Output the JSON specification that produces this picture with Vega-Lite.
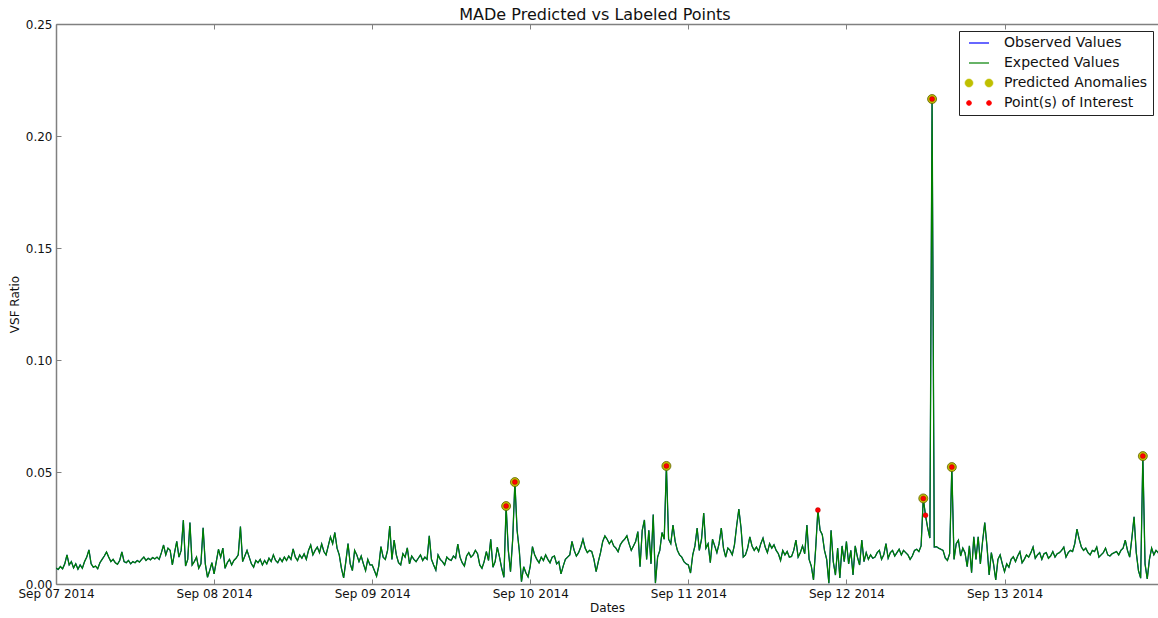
{
"$schema": "https://vega.github.io/schema/vega-lite/v6.json",
"width": 1102, "height": 560,
"autosize": {"type": "none"},
"padding": {"left": 56, "top": 24, "right": 0, "bottom": 34},
"config": {"font": "DejaVu Sans", "view": {"stroke": null}, "axis": {"grid": false}},
"title": {"text": "MADe Predicted vs Labeled Points", "font": "DejaVu Sans", "fontSize": 16, "fontWeight": "normal", "color": "#111", "anchor": "middle", "dx": -12, "offset": -5},
"data": {"values": [
{"t":"2014-09-07T00:00","v":0.0071},{"t":"2014-09-07T00:20","v":0.0065},{"t":"2014-09-07T00:40","v":0.0078},
{"t":"2014-09-07T01:00","v":0.0068},{"t":"2014-09-07T01:20","v":0.0090},{"t":"2014-09-07T01:40","v":0.0130},
{"t":"2014-09-07T02:00","v":0.0085},{"t":"2014-09-07T02:20","v":0.0100},{"t":"2014-09-07T02:40","v":0.0072},
{"t":"2014-09-07T03:00","v":0.0090},{"t":"2014-09-07T03:20","v":0.0066},{"t":"2014-09-07T03:40","v":0.0085},
{"t":"2014-09-07T04:00","v":0.0070},{"t":"2014-09-07T04:20","v":0.0100},{"t":"2014-09-07T04:40","v":0.0120},
{"t":"2014-09-07T05:00","v":0.0152},{"t":"2014-09-07T05:20","v":0.0090},{"t":"2014-09-07T05:40","v":0.0075},
{"t":"2014-09-07T06:00","v":0.0080},{"t":"2014-09-07T06:20","v":0.0068},{"t":"2014-09-07T06:40","v":0.0095},
{"t":"2014-09-07T07:00","v":0.0110},{"t":"2014-09-07T07:20","v":0.0125},{"t":"2014-09-07T07:40","v":0.0143},
{"t":"2014-09-07T08:00","v":0.0120},{"t":"2014-09-07T08:20","v":0.0100},{"t":"2014-09-07T08:40","v":0.0110},
{"t":"2014-09-07T09:00","v":0.0095},{"t":"2014-09-07T09:20","v":0.0088},{"t":"2014-09-07T09:40","v":0.0105},
{"t":"2014-09-07T10:00","v":0.0143},{"t":"2014-09-07T10:20","v":0.0100},{"t":"2014-09-07T10:40","v":0.0095},
{"t":"2014-09-07T11:00","v":0.0105},{"t":"2014-09-07T11:20","v":0.0090},{"t":"2014-09-07T11:40","v":0.0100},
{"t":"2014-09-07T12:00","v":0.0095},{"t":"2014-09-07T12:20","v":0.0105},{"t":"2014-09-07T12:40","v":0.0098},
{"t":"2014-09-07T13:00","v":0.0110},{"t":"2014-09-07T13:20","v":0.0120},{"t":"2014-09-07T13:40","v":0.0105},
{"t":"2014-09-07T14:00","v":0.0115},{"t":"2014-09-07T14:20","v":0.0108},{"t":"2014-09-07T14:40","v":0.0118},
{"t":"2014-09-07T15:00","v":0.0112},{"t":"2014-09-07T15:20","v":0.0120},{"t":"2014-09-07T15:40","v":0.0110},
{"t":"2014-09-07T16:00","v":0.0140},{"t":"2014-09-07T16:20","v":0.0174},{"t":"2014-09-07T16:40","v":0.0130},
{"t":"2014-09-07T17:00","v":0.0160},{"t":"2014-09-07T17:20","v":0.0150},{"t":"2014-09-07T17:40","v":0.0085},
{"t":"2014-09-07T18:00","v":0.0140},{"t":"2014-09-07T18:20","v":0.0190},{"t":"2014-09-07T18:40","v":0.0120},
{"t":"2014-09-07T19:00","v":0.0150},{"t":"2014-09-07T19:20","v":0.0286},{"t":"2014-09-07T19:40","v":0.0080},
{"t":"2014-09-07T20:00","v":0.0110},{"t":"2014-09-07T20:20","v":0.0274},{"t":"2014-09-07T20:40","v":0.0085},
{"t":"2014-09-07T21:00","v":0.0100},{"t":"2014-09-07T21:20","v":0.0120},{"t":"2014-09-07T21:40","v":0.0070},
{"t":"2014-09-07T22:00","v":0.0090},{"t":"2014-09-07T22:20","v":0.0251},{"t":"2014-09-07T22:40","v":0.0090},
{"t":"2014-09-07T23:00","v":0.0030},{"t":"2014-09-07T23:20","v":0.0060},{"t":"2014-09-07T23:40","v":0.0095},
{"t":"2014-09-08T00:00","v":0.0045},{"t":"2014-09-08T00:20","v":0.0100},{"t":"2014-09-08T00:40","v":0.0155},
{"t":"2014-09-08T01:00","v":0.0120},{"t":"2014-09-08T01:20","v":0.0160},{"t":"2014-09-08T01:40","v":0.0070},
{"t":"2014-09-08T02:00","v":0.0095},{"t":"2014-09-08T02:20","v":0.0110},{"t":"2014-09-08T02:40","v":0.0085},
{"t":"2014-09-08T03:00","v":0.0105},{"t":"2014-09-08T03:20","v":0.0115},{"t":"2014-09-08T03:40","v":0.0130},
{"t":"2014-09-08T04:00","v":0.0256},{"t":"2014-09-08T04:20","v":0.0100},{"t":"2014-09-08T04:40","v":0.0125},
{"t":"2014-09-08T05:00","v":0.0150},{"t":"2014-09-08T05:20","v":0.0120},{"t":"2014-09-08T05:40","v":0.0090},
{"t":"2014-09-08T06:00","v":0.0075},{"t":"2014-09-08T06:20","v":0.0105},{"t":"2014-09-08T06:40","v":0.0095},
{"t":"2014-09-08T07:00","v":0.0110},{"t":"2014-09-08T07:20","v":0.0085},{"t":"2014-09-08T07:40","v":0.0105},
{"t":"2014-09-08T08:00","v":0.0090},{"t":"2014-09-08T08:20","v":0.0115},{"t":"2014-09-08T08:40","v":0.0100},
{"t":"2014-09-08T09:00","v":0.0130},{"t":"2014-09-08T09:20","v":0.0105},{"t":"2014-09-08T09:40","v":0.0095},
{"t":"2014-09-08T10:00","v":0.0115},{"t":"2014-09-08T10:20","v":0.0100},{"t":"2014-09-08T10:40","v":0.0120},
{"t":"2014-09-08T11:00","v":0.0105},{"t":"2014-09-08T11:20","v":0.0125},{"t":"2014-09-08T11:40","v":0.0110},
{"t":"2014-09-08T12:00","v":0.0157},{"t":"2014-09-08T12:20","v":0.0120},{"t":"2014-09-08T12:40","v":0.0105},
{"t":"2014-09-08T13:00","v":0.0130},{"t":"2014-09-08T13:20","v":0.0115},{"t":"2014-09-08T13:40","v":0.0135},
{"t":"2014-09-08T14:00","v":0.0110},{"t":"2014-09-08T14:20","v":0.0150},{"t":"2014-09-08T14:40","v":0.0174},
{"t":"2014-09-08T15:00","v":0.0130},{"t":"2014-09-08T15:20","v":0.0150},{"t":"2014-09-08T15:40","v":0.0165},
{"t":"2014-09-08T16:00","v":0.0140},{"t":"2014-09-08T16:20","v":0.0179},{"t":"2014-09-08T16:40","v":0.0145},
{"t":"2014-09-08T17:00","v":0.0130},{"t":"2014-09-08T17:20","v":0.0170},{"t":"2014-09-08T17:40","v":0.0210},
{"t":"2014-09-08T18:00","v":0.0180},{"t":"2014-09-08T18:20","v":0.0230},{"t":"2014-09-08T18:40","v":0.0160},
{"t":"2014-09-08T19:00","v":0.0130},{"t":"2014-09-08T19:20","v":0.0070},{"t":"2014-09-08T19:40","v":0.0027},
{"t":"2014-09-08T20:00","v":0.0100},{"t":"2014-09-08T20:20","v":0.0180},{"t":"2014-09-08T20:40","v":0.0090},
{"t":"2014-09-08T21:00","v":0.0060},{"t":"2014-09-08T21:20","v":0.0150},{"t":"2014-09-08T21:40","v":0.0130},
{"t":"2014-09-08T22:00","v":0.0100},{"t":"2014-09-08T22:20","v":0.0125},{"t":"2014-09-08T22:40","v":0.0090},
{"t":"2014-09-08T23:00","v":0.0060},{"t":"2014-09-08T23:20","v":0.0110},{"t":"2014-09-08T23:40","v":0.0085},
{"t":"2014-09-09T00:00","v":0.0085},{"t":"2014-09-09T00:20","v":0.0060},{"t":"2014-09-09T00:40","v":0.0035},
{"t":"2014-09-09T01:00","v":0.0080},{"t":"2014-09-09T01:20","v":0.0167},{"t":"2014-09-09T01:40","v":0.0120},
{"t":"2014-09-09T02:00","v":0.0110},{"t":"2014-09-09T02:20","v":0.0150},{"t":"2014-09-09T02:40","v":0.0259},
{"t":"2014-09-09T03:00","v":0.0110},{"t":"2014-09-09T03:20","v":0.0196},{"t":"2014-09-09T03:40","v":0.0130},
{"t":"2014-09-09T04:00","v":0.0095},{"t":"2014-09-09T04:20","v":0.0085},{"t":"2014-09-09T04:40","v":0.0135},
{"t":"2014-09-09T05:00","v":0.0120},{"t":"2014-09-09T05:20","v":0.0161},{"t":"2014-09-09T05:40","v":0.0090},
{"t":"2014-09-09T06:00","v":0.0125},{"t":"2014-09-09T06:20","v":0.0110},{"t":"2014-09-09T06:40","v":0.0100},
{"t":"2014-09-09T07:00","v":0.0115},{"t":"2014-09-09T07:20","v":0.0130},{"t":"2014-09-09T07:40","v":0.0105},
{"t":"2014-09-09T08:00","v":0.0120},{"t":"2014-09-09T08:20","v":0.0110},{"t":"2014-09-09T08:40","v":0.0215},
{"t":"2014-09-09T09:00","v":0.0110},{"t":"2014-09-09T09:20","v":0.0085},{"t":"2014-09-09T09:40","v":0.0062},
{"t":"2014-09-09T10:00","v":0.0130},{"t":"2014-09-09T10:20","v":0.0110},{"t":"2014-09-09T10:40","v":0.0100},
{"t":"2014-09-09T11:00","v":0.0085},{"t":"2014-09-09T11:20","v":0.0120},{"t":"2014-09-09T11:40","v":0.0110},
{"t":"2014-09-09T12:00","v":0.0105},{"t":"2014-09-09T12:20","v":0.0125},{"t":"2014-09-09T12:40","v":0.0115},
{"t":"2014-09-09T13:00","v":0.0178},{"t":"2014-09-09T13:20","v":0.0120},{"t":"2014-09-09T13:40","v":0.0095},
{"t":"2014-09-09T14:00","v":0.0080},{"t":"2014-09-09T14:20","v":0.0125},{"t":"2014-09-09T14:40","v":0.0140},
{"t":"2014-09-09T15:00","v":0.0120},{"t":"2014-09-09T15:20","v":0.0130},{"t":"2014-09-09T15:40","v":0.0150},
{"t":"2014-09-09T16:00","v":0.0135},{"t":"2014-09-09T16:20","v":0.0085},{"t":"2014-09-09T16:40","v":0.0070},
{"t":"2014-09-09T17:00","v":0.0100},{"t":"2014-09-09T17:20","v":0.0145},{"t":"2014-09-09T17:40","v":0.0105},
{"t":"2014-09-09T18:00","v":0.0200},{"t":"2014-09-09T18:20","v":0.0075},{"t":"2014-09-09T18:40","v":0.0100},
{"t":"2014-09-09T19:00","v":0.0165},{"t":"2014-09-09T19:20","v":0.0120},{"t":"2014-09-09T19:40","v":0.0070},
{"t":"2014-09-09T20:00","v":0.0030},{"t":"2014-09-09T20:20","v":0.0348,"a":1,"p":1},{"t":"2014-09-09T20:40","v":0.0150},
{"t":"2014-09-09T21:00","v":0.0055},{"t":"2014-09-09T21:20","v":0.0200},{"t":"2014-09-09T21:40","v":0.0455,"a":1,"p":1},
{"t":"2014-09-09T22:00","v":0.0240},{"t":"2014-09-09T22:20","v":0.0150},{"t":"2014-09-09T22:40","v":0.0010},
{"t":"2014-09-09T23:00","v":0.0077},{"t":"2014-09-09T23:20","v":0.0050},{"t":"2014-09-09T23:40","v":0.0032},
{"t":"2014-09-10T00:00","v":0.0080},{"t":"2014-09-10T00:20","v":0.0167},{"t":"2014-09-10T00:40","v":0.0130},
{"t":"2014-09-10T01:00","v":0.0110},{"t":"2014-09-10T01:20","v":0.0095},{"t":"2014-09-10T01:40","v":0.0120},
{"t":"2014-09-10T02:00","v":0.0105},{"t":"2014-09-10T02:20","v":0.0130},{"t":"2014-09-10T02:40","v":0.0110},
{"t":"2014-09-10T03:00","v":0.0095},{"t":"2014-09-10T03:20","v":0.0120},{"t":"2014-09-10T03:40","v":0.0125},
{"t":"2014-09-10T04:00","v":0.0090},{"t":"2014-09-10T04:20","v":0.0100},{"t":"2014-09-10T04:40","v":0.0045},
{"t":"2014-09-10T05:00","v":0.0080},{"t":"2014-09-10T05:20","v":0.0110},{"t":"2014-09-10T05:40","v":0.0120},
{"t":"2014-09-10T06:00","v":0.0130},{"t":"2014-09-10T06:20","v":0.0190},{"t":"2014-09-10T06:40","v":0.0150},
{"t":"2014-09-10T07:00","v":0.0125},{"t":"2014-09-10T07:20","v":0.0140},{"t":"2014-09-10T07:40","v":0.0165},
{"t":"2014-09-10T08:00","v":0.0200},{"t":"2014-09-10T08:20","v":0.0160},{"t":"2014-09-10T08:40","v":0.0140},
{"t":"2014-09-10T09:00","v":0.0150},{"t":"2014-09-10T09:20","v":0.0145},{"t":"2014-09-10T09:40","v":0.0110},
{"t":"2014-09-10T10:00","v":0.0055},{"t":"2014-09-10T10:20","v":0.0100},{"t":"2014-09-10T10:40","v":0.0140},
{"t":"2014-09-10T11:00","v":0.0190},{"t":"2014-09-10T11:20","v":0.0215},{"t":"2014-09-10T11:40","v":0.0200},
{"t":"2014-09-10T12:00","v":0.0180},{"t":"2014-09-10T12:20","v":0.0195},{"t":"2014-09-10T12:40","v":0.0170},
{"t":"2014-09-10T13:00","v":0.0160},{"t":"2014-09-10T13:20","v":0.0144},{"t":"2014-09-10T13:40","v":0.0175},
{"t":"2014-09-10T14:00","v":0.0190},{"t":"2014-09-10T14:20","v":0.0200},{"t":"2014-09-10T14:40","v":0.0215},
{"t":"2014-09-10T15:00","v":0.0180},{"t":"2014-09-10T15:20","v":0.0150},{"t":"2014-09-10T15:40","v":0.0170},
{"t":"2014-09-10T16:00","v":0.0190},{"t":"2014-09-10T16:20","v":0.0234},{"t":"2014-09-10T16:40","v":0.0077},
{"t":"2014-09-10T17:00","v":0.0240},{"t":"2014-09-10T17:20","v":0.0286},{"t":"2014-09-10T17:40","v":0.0110},
{"t":"2014-09-10T18:00","v":0.0240},{"t":"2014-09-10T18:20","v":0.0090},{"t":"2014-09-10T18:40","v":0.0310},
{"t":"2014-09-10T19:00","v":0.0004},{"t":"2014-09-10T19:20","v":0.0120},{"t":"2014-09-10T19:40","v":0.0150},
{"t":"2014-09-10T20:00","v":0.0230},{"t":"2014-09-10T20:20","v":0.0200},{"t":"2014-09-10T20:40","v":0.0527,"a":1,"p":1},
{"t":"2014-09-10T21:00","v":0.0200},{"t":"2014-09-10T21:20","v":0.0180},{"t":"2014-09-10T21:40","v":0.0263},
{"t":"2014-09-10T22:00","v":0.0190},{"t":"2014-09-10T22:20","v":0.0150},{"t":"2014-09-10T22:40","v":0.0130},
{"t":"2014-09-10T23:00","v":0.0120},{"t":"2014-09-10T23:20","v":0.0100},{"t":"2014-09-10T23:40","v":0.0090},
{"t":"2014-09-11T00:00","v":0.0085},{"t":"2014-09-11T00:20","v":0.0049},{"t":"2014-09-11T00:40","v":0.0130},
{"t":"2014-09-11T01:00","v":0.0170},{"t":"2014-09-11T01:20","v":0.0250},{"t":"2014-09-11T01:40","v":0.0150},
{"t":"2014-09-11T02:00","v":0.0200},{"t":"2014-09-11T02:20","v":0.0317},{"t":"2014-09-11T02:40","v":0.0160},
{"t":"2014-09-11T03:00","v":0.0180},{"t":"2014-09-11T03:20","v":0.0095},{"t":"2014-09-11T03:40","v":0.0200},
{"t":"2014-09-11T04:00","v":0.0170},{"t":"2014-09-11T04:20","v":0.0140},{"t":"2014-09-11T04:40","v":0.0180},
{"t":"2014-09-11T05:00","v":0.0250},{"t":"2014-09-11T05:20","v":0.0160},{"t":"2014-09-11T05:40","v":0.0120},
{"t":"2014-09-11T06:00","v":0.0160},{"t":"2014-09-11T06:20","v":0.0150},{"t":"2014-09-11T06:40","v":0.0130},
{"t":"2014-09-11T07:00","v":0.0175},{"t":"2014-09-11T07:20","v":0.0260},{"t":"2014-09-11T07:40","v":0.0335},
{"t":"2014-09-11T08:00","v":0.0250},{"t":"2014-09-11T08:20","v":0.0120},{"t":"2014-09-11T08:40","v":0.0130},
{"t":"2014-09-11T09:00","v":0.0160},{"t":"2014-09-11T09:20","v":0.0210},{"t":"2014-09-11T09:40","v":0.0170},
{"t":"2014-09-11T10:00","v":0.0150},{"t":"2014-09-11T10:20","v":0.0165},{"t":"2014-09-11T10:40","v":0.0145},
{"t":"2014-09-11T11:00","v":0.0180},{"t":"2014-09-11T11:20","v":0.0205},{"t":"2014-09-11T11:40","v":0.0165},
{"t":"2014-09-11T12:00","v":0.0140},{"t":"2014-09-11T12:20","v":0.0180},{"t":"2014-09-11T12:40","v":0.0160},
{"t":"2014-09-11T13:00","v":0.0175},{"t":"2014-09-11T13:20","v":0.0150},{"t":"2014-09-11T13:40","v":0.0135},
{"t":"2014-09-11T14:00","v":0.0105},{"t":"2014-09-11T14:20","v":0.0150},{"t":"2014-09-11T14:40","v":0.0130},
{"t":"2014-09-11T15:00","v":0.0145},{"t":"2014-09-11T15:20","v":0.0120},{"t":"2014-09-11T15:40","v":0.0123},
{"t":"2014-09-11T16:00","v":0.0150},{"t":"2014-09-11T16:20","v":0.0196},{"t":"2014-09-11T16:40","v":0.0120},
{"t":"2014-09-11T17:00","v":0.0140},{"t":"2014-09-11T17:20","v":0.0170},{"t":"2014-09-11T17:40","v":0.0135},
{"t":"2014-09-11T18:00","v":0.0263},{"t":"2014-09-11T18:20","v":0.0110},{"t":"2014-09-11T18:40","v":0.0080},
{"t":"2014-09-11T19:00","v":0.0018},{"t":"2014-09-11T19:20","v":0.0160},{"t":"2014-09-11T19:40","v":0.0330,"p":1},
{"t":"2014-09-11T20:00","v":0.0240},{"t":"2014-09-11T20:20","v":0.0220},{"t":"2014-09-11T20:40","v":0.0150},
{"t":"2014-09-11T21:00","v":0.0110},{"t":"2014-09-11T21:20","v":0.0004},{"t":"2014-09-11T21:40","v":0.0240},
{"t":"2014-09-11T22:00","v":0.0100},{"t":"2014-09-11T22:20","v":0.0040},{"t":"2014-09-11T22:40","v":0.0160},
{"t":"2014-09-11T23:00","v":0.0027},{"t":"2014-09-11T23:20","v":0.0170},{"t":"2014-09-11T23:40","v":0.0100},
{"t":"2014-09-12T00:00","v":0.0190},{"t":"2014-09-12T00:20","v":0.0090},{"t":"2014-09-12T00:40","v":0.0150},
{"t":"2014-09-12T01:00","v":0.0040},{"t":"2014-09-12T01:20","v":0.0170},{"t":"2014-09-12T01:40","v":0.0120},
{"t":"2014-09-12T02:00","v":0.0085},{"t":"2014-09-12T02:20","v":0.0196},{"t":"2014-09-12T02:40","v":0.0100},
{"t":"2014-09-12T03:00","v":0.0140},{"t":"2014-09-12T03:20","v":0.0110},{"t":"2014-09-12T03:40","v":0.0130},
{"t":"2014-09-12T04:00","v":0.0115},{"t":"2014-09-12T04:20","v":0.0120},{"t":"2014-09-12T04:40","v":0.0140},
{"t":"2014-09-12T05:00","v":0.0150},{"t":"2014-09-12T05:20","v":0.0110},{"t":"2014-09-12T05:40","v":0.0130},
{"t":"2014-09-12T06:00","v":0.0180},{"t":"2014-09-12T06:20","v":0.0115},{"t":"2014-09-12T06:40","v":0.0140},
{"t":"2014-09-12T07:00","v":0.0150},{"t":"2014-09-12T07:20","v":0.0125},{"t":"2014-09-12T07:40","v":0.0140},
{"t":"2014-09-12T08:00","v":0.0155},{"t":"2014-09-12T08:20","v":0.0130},{"t":"2014-09-12T08:40","v":0.0150},
{"t":"2014-09-12T09:00","v":0.0140},{"t":"2014-09-12T09:20","v":0.0130},{"t":"2014-09-12T09:40","v":0.0110},
{"t":"2014-09-12T10:00","v":0.0125},{"t":"2014-09-12T10:20","v":0.0150},{"t":"2014-09-12T10:40","v":0.0155},
{"t":"2014-09-12T11:00","v":0.0145},{"t":"2014-09-12T11:20","v":0.0170},{"t":"2014-09-12T11:40","v":0.0382,"a":1,"p":1},
{"t":"2014-09-12T12:00","v":0.0307,"p":1},{"t":"2014-09-12T12:20","v":0.0250},{"t":"2014-09-12T12:40","v":0.0205},
{"t":"2014-09-12T13:00","v":0.2165,"a":1,"p":1},{"t":"2014-09-12T13:20","v":0.0165},{"t":"2014-09-12T13:40","v":0.0167},
{"t":"2014-09-12T14:00","v":0.0160},{"t":"2014-09-12T14:20","v":0.0155},{"t":"2014-09-12T14:40","v":0.0150},
{"t":"2014-09-12T15:00","v":0.0116},{"t":"2014-09-12T15:20","v":0.0105},{"t":"2014-09-12T15:40","v":0.0135},
{"t":"2014-09-12T16:00","v":0.0522,"a":1,"p":1},{"t":"2014-09-12T16:20","v":0.0110},{"t":"2014-09-12T16:40","v":0.0180},
{"t":"2014-09-12T17:00","v":0.0196},{"t":"2014-09-12T17:20","v":0.0125},{"t":"2014-09-12T17:40","v":0.0160},
{"t":"2014-09-12T18:00","v":0.0140},{"t":"2014-09-12T18:20","v":0.0077},{"t":"2014-09-12T18:40","v":0.0170},
{"t":"2014-09-12T19:00","v":0.0050},{"t":"2014-09-12T19:20","v":0.0211},{"t":"2014-09-12T19:40","v":0.0110},
{"t":"2014-09-12T20:00","v":0.0211},{"t":"2014-09-12T20:20","v":0.0090},{"t":"2014-09-12T20:40","v":0.0190},
{"t":"2014-09-12T21:00","v":0.0274},{"t":"2014-09-12T21:20","v":0.0170},{"t":"2014-09-12T21:40","v":0.0040},
{"t":"2014-09-12T22:00","v":0.0140},{"t":"2014-09-12T22:20","v":0.0090},{"t":"2014-09-12T22:40","v":0.0018},
{"t":"2014-09-12T23:00","v":0.0110},{"t":"2014-09-12T23:20","v":0.0130},{"t":"2014-09-12T23:40","v":0.0090},
{"t":"2014-09-13T00:00","v":0.0055},{"t":"2014-09-13T00:20","v":0.0090},{"t":"2014-09-13T00:40","v":0.0075},
{"t":"2014-09-13T01:00","v":0.0110},{"t":"2014-09-13T01:20","v":0.0122},{"t":"2014-09-13T01:40","v":0.0100},
{"t":"2014-09-13T02:00","v":0.0125},{"t":"2014-09-13T02:20","v":0.0144},{"t":"2014-09-13T02:40","v":0.0095},
{"t":"2014-09-13T03:00","v":0.0110},{"t":"2014-09-13T03:20","v":0.0130},{"t":"2014-09-13T03:40","v":0.0120},
{"t":"2014-09-13T04:00","v":0.0140},{"t":"2014-09-13T04:20","v":0.0165},{"t":"2014-09-13T04:40","v":0.0115},
{"t":"2014-09-13T05:00","v":0.0130},{"t":"2014-09-13T05:20","v":0.0140},{"t":"2014-09-13T05:40","v":0.0110},
{"t":"2014-09-13T06:00","v":0.0135},{"t":"2014-09-13T06:20","v":0.0140},{"t":"2014-09-13T06:40","v":0.0115},
{"t":"2014-09-13T07:00","v":0.0125},{"t":"2014-09-13T07:20","v":0.0145},{"t":"2014-09-13T07:40","v":0.0120},
{"t":"2014-09-13T08:00","v":0.0135},{"t":"2014-09-13T08:20","v":0.0140},{"t":"2014-09-13T08:40","v":0.0150},
{"t":"2014-09-13T09:00","v":0.0165},{"t":"2014-09-13T09:20","v":0.0120},{"t":"2014-09-13T09:40","v":0.0140},
{"t":"2014-09-13T10:00","v":0.0150},{"t":"2014-09-13T10:20","v":0.0145},{"t":"2014-09-13T10:40","v":0.0180},
{"t":"2014-09-13T11:00","v":0.0245},{"t":"2014-09-13T11:20","v":0.0200},{"t":"2014-09-13T11:40","v":0.0165},
{"t":"2014-09-13T12:00","v":0.0150},{"t":"2014-09-13T12:20","v":0.0160},{"t":"2014-09-13T12:40","v":0.0140},
{"t":"2014-09-13T13:00","v":0.0130},{"t":"2014-09-13T13:20","v":0.0150},{"t":"2014-09-13T13:40","v":0.0145},
{"t":"2014-09-13T14:00","v":0.0165},{"t":"2014-09-13T14:20","v":0.0120},{"t":"2014-09-13T14:40","v":0.0130},
{"t":"2014-09-13T15:00","v":0.0140},{"t":"2014-09-13T15:20","v":0.0160},{"t":"2014-09-13T15:40","v":0.0130},
{"t":"2014-09-13T16:00","v":0.0125},{"t":"2014-09-13T16:20","v":0.0135},{"t":"2014-09-13T16:40","v":0.0140},
{"t":"2014-09-13T17:00","v":0.0145},{"t":"2014-09-13T17:20","v":0.0130},{"t":"2014-09-13T17:40","v":0.0150},
{"t":"2014-09-13T18:00","v":0.0160},{"t":"2014-09-13T18:20","v":0.0196},{"t":"2014-09-13T18:40","v":0.0150},
{"t":"2014-09-13T19:00","v":0.0120},{"t":"2014-09-13T19:20","v":0.0205},{"t":"2014-09-13T19:40","v":0.0300},
{"t":"2014-09-13T20:00","v":0.0140},{"t":"2014-09-13T20:20","v":0.0060},{"t":"2014-09-13T20:40","v":0.0026},
{"t":"2014-09-13T21:00","v":0.0571,"a":1,"p":1},{"t":"2014-09-13T21:20","v":0.0090},{"t":"2014-09-13T21:40","v":0.0023},
{"t":"2014-09-13T22:00","v":0.0110},{"t":"2014-09-13T22:20","v":0.0160},{"t":"2014-09-13T22:40","v":0.0130},
{"t":"2014-09-13T23:00","v":0.0150},{"t":"2014-09-13T23:20","v":0.0140},{"t":"2014-09-13T23:40","v":0.0120}
]},
"layer": [
{"mark": {"type": "line", "strokeWidth": 1.1, "clip": true},
 "encoding": {
  "x": {"field": "t", "type": "temporal",
   "scale": {"domain": [{"year": 2014, "month": 9, "date": 7}, {"year": 2014, "month": 9, "date": 13, "hours": 23, "minutes": 18}], "nice": false},
   "axis": {"orient": "bottom", "title": "Dates", "format": "%b %d %Y", "tickCount": {"interval": "day", "step": 1},
    "labelFont": "DejaVu Sans", "labelFontSize": 12, "labelColor": "#111", "labelFlush": false, "labelOverlap": false,
    "titleFont": "DejaVu Sans", "titleFontSize": 12, "titleFontWeight": "normal", "titleColor": "#111", "titlePadding": 3,
    "tickSize": -5, "labelPadding": 9, "domainColor": "#808080", "domainWidth": 1.5, "tickColor": "#808080"}},
  "y": {"field": "v", "type": "quantitative",
   "scale": {"domain": [0, 0.25], "nice": false, "zero": true},
   "axis": {"title": "VSF Ratio", "format": ".2f", "values": [0, 0.05, 0.1, 0.15, 0.2, 0.25],
    "labelFont": "DejaVu Sans", "labelFontSize": 12, "labelColor": "#111",
    "titleFont": "DejaVu Sans", "titleFontSize": 12, "titleFontWeight": "normal", "titleColor": "#111", "titlePadding": 4,
    "tickSize": -5, "labelPadding": 9, "domainColor": "#808080", "domainWidth": 1.5, "tickColor": "#808080"}},
  "color": {"datum": "Observed Values",
   "scale": {"domain": ["Observed Values", "Expected Values", "Predicted Anomalies", "Point(s) of Interest"], "range": ["#0000ff", "#008000", "#bfbf00", "#ff0000"]},
   "legend": {"title": null, "orient": "none", "legendX": 903, "legendY": 7, "strokeColor": "#222", "fillColor": "#ffffff", "padding": 5,
    "labelFont": "DejaVu Sans", "labelFontSize": 14, "labelColor": "#111", "symbolSize": 400, "symbolOffset": 8, "labelOffset": 18, "rowPadding": 6,
    "encode": {"symbols": {"update": {
     "shape": {"signal": "datum.value === 'Predicted Anomalies' ? 'M-1.4,0A0.4,0.4,0,1,0,-0.6,0A0.4,0.4,0,1,0,-1.4,0ZM0.6,0A0.4,0.4,0,1,0,1.4,0A0.4,0.4,0,1,0,0.6,0Z' : datum.value === 'Point(s) of Interest' ? 'M-1.25,0A0.25,0.25,0,1,0,-0.75,0A0.25,0.25,0,1,0,-1.25,0ZM0.75,0A0.25,0.25,0,1,0,1.25,0A0.25,0.25,0,1,0,0.75,0Z' : 'M-1,0L1,0'"},
     "size": {"value": 400},
     "fill": {"signal": "datum.value === 'Predicted Anomalies' ? '#bfbf00' : datum.value === 'Point(s) of Interest' ? '#ff0000' : 'transparent'"},
     "stroke": {"signal": "datum.value === 'Observed Values' ? '#0000ff' : datum.value === 'Expected Values' ? '#008000' : datum.value === 'Predicted Anomalies' ? '#5f5f00' : '#a00000'"},
     "strokeWidth": {"signal": "datum.value === 'Observed Values' || datum.value === 'Expected Values' ? 1.2 : 0.6"},
     "opacity": {"value": 1}
    }}}}}
 }},
{"mark": {"type": "line", "strokeWidth": 1.3, "clip": true},
 "encoding": {
  "x": {"field": "t", "type": "temporal",
   "axis": {"orient": "top", "title": null, "labels": false, "tickCount": {"interval": "day", "step": 1},
    "tickSize": -5, "domainColor": "#808080", "domainWidth": 1.5, "tickColor": "#808080"}},
  "y": {"field": "v", "type": "quantitative"},
  "color": {"datum": "Expected Values"}
 }},
{"transform": [{"filter": "datum.a == 1"}],
 "mark": {"type": "point", "filled": true, "size": 81, "opacity": 1, "stroke": "#5f5f00", "strokeWidth": 0.8, "clip": true},
 "encoding": {
  "x": {"field": "t", "type": "temporal", "axis": null},
  "y": {"field": "v", "type": "quantitative"},
  "color": {"datum": "Predicted Anomalies"}
 }},
{"transform": [{"filter": "datum.p == 1"}],
 "mark": {"type": "point", "filled": true, "size": 25, "opacity": 1, "stroke": "#a00000", "strokeWidth": 0.4, "clip": true},
 "encoding": {
  "x": {"field": "t", "type": "temporal", "axis": null},
  "y": {"field": "v", "type": "quantitative"},
  "color": {"datum": "Point(s) of Interest"}
 }}
],
"resolve": {"axis": {"x": "independent"}}
}
